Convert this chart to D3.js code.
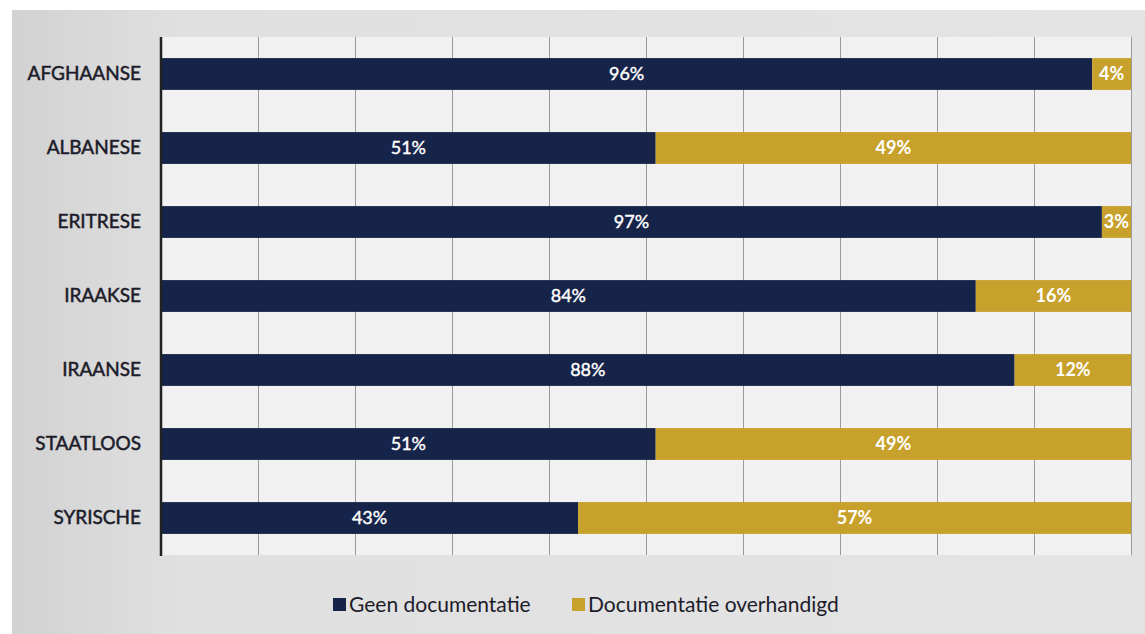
<!DOCTYPE html>
<html><head><meta charset="utf-8">
<script src="https://cdn.jsdelivr.net/npm/d3@7"></script>
<style>body{margin:0;background:#fff;}svg{display:block;}</style>
</head><body>
<svg id="c" width="1145" height="634"></svg>
<script>
const categories = ["AFGHAANSE","ALBANESE","ERITRESE","IRAAKSE","IRAANSE","STAATLOOS","SYRISCHE"];
const geen = [96,51,97,84,88,51,43];
const overhandigd = [4,49,3,16,12,49,57];
const seriesNames = ["Geen documentatie","Documentatie overhandigd"];
const colors = ["#172449","#c8a12c"];
const xTicks = [0,10,20,30,40,50,60,70,80,90,100];

const svg = d3.select("#c");
const defs = svg.append("defs");
const g1 = defs.append("linearGradient").attr("id","bg").attr("x1","0").attr("x2","1").attr("y1","0").attr("y2","0");
g1.append("stop").attr("offset","0").attr("stop-color","#d2d2d2");
g1.append("stop").attr("offset","0.15").attr("stop-color","#e0e0e0");
g1.append("stop").attr("offset","1").attr("stop-color","#e4e4e4");
svg.append("rect").attr("x",12).attr("y",10).attr("width",1133).attr("height",624).attr("fill","url(#bg)");

const x = d3.scaleLinear().domain([0,100]).range([161,1131]);
const y = d3.scaleBand().domain(categories).range([37,555]).paddingInner(0.57).paddingOuter(0.285);

svg.append("rect").attr("x",x(0)).attr("y",37).attr("width",x(100)-x(0)).attr("height",518).attr("fill","#f1f1f1");

// gridlines
const grid = svg.append("g").attr("transform","translate(0,555)")
  .call(d3.axisBottom(x).tickValues(xTicks).tickSize(-518).tickFormat(""));
grid.select(".domain").remove();
grid.selectAll("line").attr("stroke","#9a9a9a").attr("stroke-width",1);

const font = "Lato, 'Open Sans', sans-serif";
const data = categories.map((c,i)=>({c, a:geen[i], b:overhandigd[i]}));
const rows = svg.append("g").selectAll("g").data(data).join("g");
rows.append("rect").attr("x",x(0)).attr("y",d=>y(d.c)).attr("width",d=>x(d.a)-x(0)).attr("height",y.bandwidth()).attr("fill",colors[0]);
rows.append("rect").attr("x",d=>x(d.a)).attr("y",d=>y(d.c)).attr("width",d=>x(d.a+d.b)-x(d.a)).attr("height",y.bandwidth()).attr("fill",colors[1]);
rows.append("text").attr("x",d=>(x(0)+x(d.a))/2).attr("y",d=>y(d.c)+y.bandwidth()/2).attr("dy","0.35em")
  .attr("text-anchor","middle").attr("fill","#fff").attr("stroke","#fff").attr("stroke-width",0.4)
  .attr("font-family",font).attr("font-size",18).attr("font-weight",400)
  .text(d=>d.a+"%");
rows.append("text").attr("x",d=>(x(d.a)+x(d.a+d.b))/2).attr("y",d=>y(d.c)+y.bandwidth()/2).attr("dy","0.35em")
  .attr("text-anchor","middle").attr("fill","#fff").attr("font-family",font).attr("font-size",18).attr("font-weight",700)
  .text(d=>d.b+"%");

// y axis
const ya = svg.append("g").attr("transform",`translate(${x(0)},0)`).call(d3.axisLeft(y).tickSize(0).tickPadding(20));
ya.select(".domain").remove();
ya.selectAll("text").attr("font-family",font).attr("font-size",19).attr("font-weight",400)
  .attr("fill","#1c1c2a").attr("stroke","#1c1c2a").attr("stroke-width",0.5);
svg.append("line").attr("x1",x(0)).attr("x2",x(0)).attr("y1",37).attr("y2",556).attr("stroke","#222").attr("stroke-width",2.5);

// legend
const leg = svg.append("g").attr("font-family",font).attr("font-size",21).attr("fill","#1c1c2a");
const lx = [333,572];
seriesNames.forEach((n,i)=>{
  leg.append("rect").attr("x",lx[i]).attr("y",598).attr("width",13).attr("height",13).attr("fill",colors[i]);
  leg.append("text").attr("x",lx[i]+16).attr("y",605).attr("dy","0.35em").text(n);
});
</script>
</body></html>
